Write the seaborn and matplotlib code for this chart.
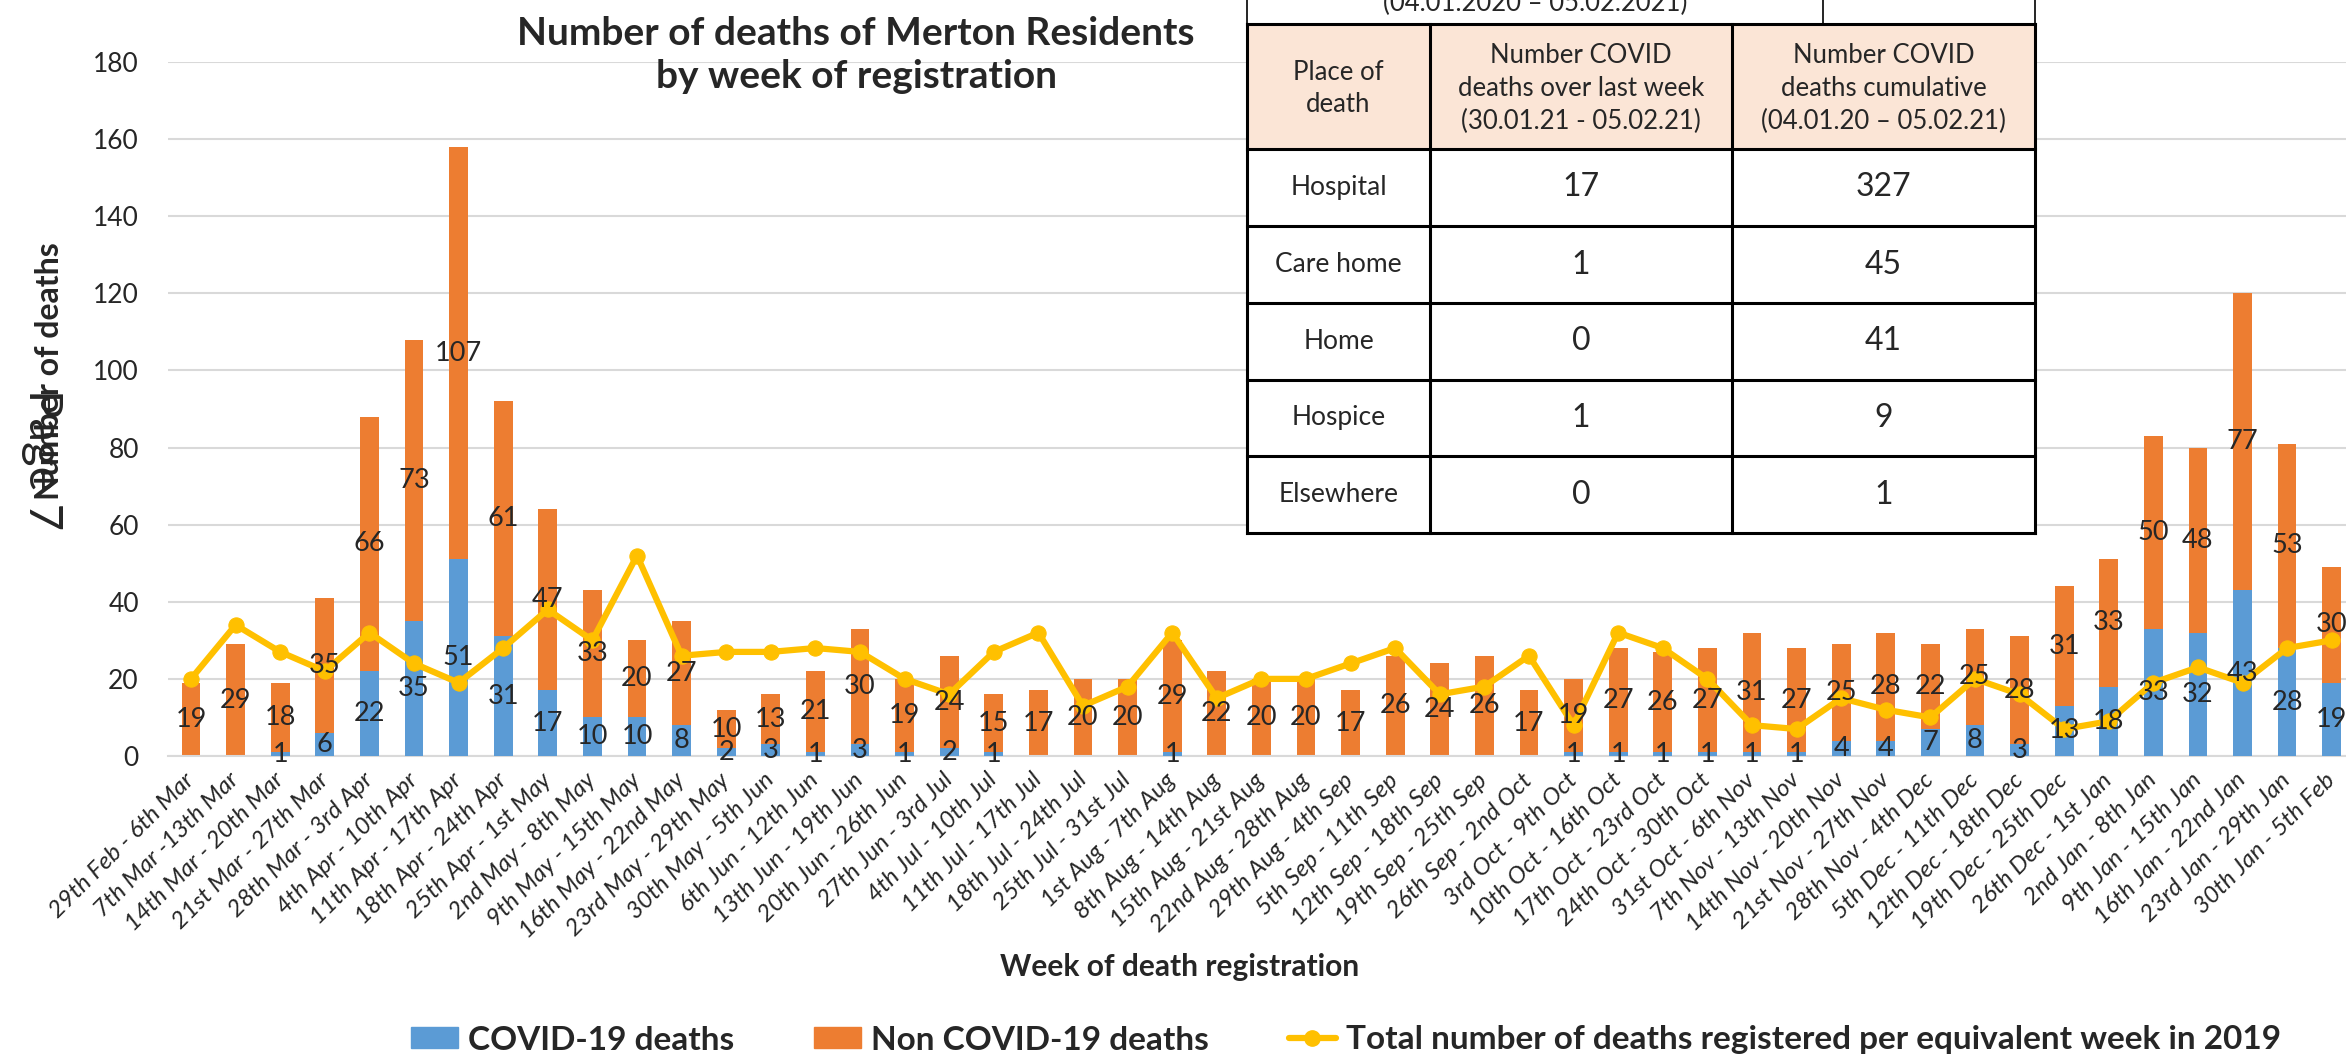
import numpy as np
import pandas as pd
import matplotlib
matplotlib.use('Agg')
import matplotlib.pyplot as plt
import seaborn as sns
from matplotlib.lines import Line2D
from matplotlib.patches import Patch, Rectangle

# weekly data
weeks = ['29th Feb - 6th Mar', '7th Mar -13th Mar', '14th Mar - 20th Mar', '21st Mar - 27th Mar',
         '28th Mar - 3rd Apr', '4th Apr - 10th Apr', '11th Apr - 17th Apr', '18th Apr - 24th Apr',
         '25th Apr - 1st May', '2nd May - 8th May', '9th May - 15th May', '16th May - 22nd May',
         '23rd May - 29th May', '30th May - 5th Jun', '6th Jun - 12th Jun', '13th Jun - 19th Jun',
         '20th Jun - 26th Jun', '27th Jun - 3rd Jul', '4th Jul - 10th Jul', '11th Jul - 17th Jul',
         '18th Jul - 24th Jul', '25th Jul - 31st Jul', '1st Aug - 7th Aug', '8th Aug - 14th Aug',
         '15th Aug - 21st Aug', '22nd Aug - 28th Aug', '29th Aug - 4th Sep', '5th Sep - 11th Sep',
         '12th Sep - 18th Sep', '19th Sep - 25th Sep', '26th Sep - 2nd Oct', '3rd Oct - 9th Oct',
         '10th Oct - 16th Oct', '17th Oct - 23rd Oct', '24th Oct - 30th Oct', '31st Oct - 6th Nov',
         '7th Nov - 13th Nov', '14th Nov - 20th Nov', '21st Nov - 27th Nov', '28th Nov - 4th Dec',
         '5th Dec - 11th Dec', '12th Dec - 18th Dec', '19th Dec - 25th Dec', '26th Dec - 1st Jan',
         '2nd Jan - 8th Jan', '9th Jan - 15th Jan', '16th Jan - 22nd Jan', '23rd Jan - 29th Jan',
         '30th Jan - 5th Feb']
covid_deaths = [0, 0, 1, 6, 22, 35, 51, 31, 17, 10, 10, 8, 2, 3, 1, 3, 1, 2, 1, 0,
                0, 0, 1, 0, 0, 0, 0, 0, 0, 0, 0, 1, 1, 1, 1, 1, 1, 4, 4, 7,
                8, 3, 13, 18, 33, 32, 43, 28, 19]
non_covid_deaths = [19, 29, 18, 35, 66, 73, 107, 61, 47, 33, 20, 27, 10, 13, 21, 30, 19, 24, 15, 17,
                    20, 20, 29, 22, 20, 20, 17, 26, 24, 26, 17, 19, 27, 26, 27, 31, 27, 25, 28, 22,
                    25, 28, 31, 33, 50, 48, 77, 53, 30]
deaths_2019 = [20, 34, 27, 22, 32, 24, 19, 28, 38, 30, 52, 26, 27, 27, 28, 27, 20, 16, 27, 32,
               13, 18, 32, 15, 20, 20, 24, 28, 16, 18, 26, 8, 32, 28, 20, 8, 7, 15, 12, 10,
               20, 16, 7, 9, 19, 23, 19, 28, 30]

# place of death table
table_header = ['Place of\ndeath',
                'Number COVID\ndeaths over last week\n(30.01.21 - 05.02.21)',
                'Number COVID\ndeaths cumulative\n(04.01.20 \u2013 05.02.21)']
table_places = ['Hospital', 'Care home', 'Home', 'Hospice', 'Elsewhere']
table_last_week = [17, 1, 0, 1, 0]
table_cumulative = [327, 45, 41, 9, 1]

BLUE = '#5B9BD5'
ORANGE = '#ED7D31'
YELLOW = '#FFC000'
GRID = '#D9D9D9'

W, H = 2346, 1058


def fx(px):
    return px / W


def fy(py):
    return 1 - py / H


sns.set_style('white')
plt.rcParams['font.family'] = ['Lato', 'DejaVu Sans']

df = pd.DataFrame({'week': weeks, 'covid': covid_deaths,
                   'non_covid': non_covid_deaths, 'y2019': deaths_2019})
df['total'] = df['covid'] + df['non_covid']
x_pos = np.arange(len(df))

fig = plt.figure(figsize=(W / 100, H / 100), dpi=100)
ax = fig.add_axes([fx(168), fy(756), fx(W) - fx(168), fy(62) - fy(756)])

# stacked bars: total in orange, covid part over it in blue
sns.barplot(data=df, x='week', y='total', color=ORANGE, saturation=1, width=0.42,
            linewidth=0, errorbar=None, ax=ax, zorder=2)
sns.barplot(data=df, x='week', y='covid', color=BLUE, saturation=1, width=0.42,
            linewidth=0, errorbar=None, ax=ax, zorder=3)
sns.lineplot(x=x_pos, y=df['y2019'], color=YELLOW, lw=4.5, marker='o', markersize=11,
             markeredgecolor=YELLOW, ax=ax, zorder=4)

for i, row in df.iterrows():
    if row['covid'] > 0:
        ax.text(i, row['covid'] / 2, str(row['covid']), ha='center', va='center',
                fontsize=19.5, zorder=6)
    ax.text(i, row['covid'] + row['non_covid'] / 2, str(row['non_covid']), ha='center',
            va='center', fontsize=19.5, zorder=6)

ax.set_ylim(0, 180)
ax.set_xlim(-0.516, 48.32)
ax.set_yticks(range(0, 181, 20))
ax.set_xticks(x_pos)
ax.set_xticklabels(weeks, rotation=45, ha='right', va='center', rotation_mode='anchor',
                   fontsize=17.5, style='italic')
ax.tick_params(axis='x', length=0, pad=15)
ax.tick_params(axis='y', length=0, pad=21, labelsize=19)
ax.grid(axis='y', color=GRID, lw=1.5)
ax.set_axisbelow(True)
for s in ['top', 'right', 'left']:
    ax.spines[s].set_visible(False)
ax.spines['bottom'].set_color(GRID)
ax.spines['bottom'].set_linewidth(1.5)
ax.set_xlabel('')
ax.set_ylabel('')

# titles
fig.text(fx(856), fy(55), 'Number of deaths of Merton Residents\nby week of registration',
         ha='center', va='center', fontsize=28, fontweight='bold', linespacing=1.3)
fig.text(fx(1180), fy(967), 'Week of death registration', ha='center', va='center',
         fontsize=21.5, fontweight='bold')
fig.text(fx(50), fy(242), 'Number of deaths', rotation=90, ha='center', va='top',
         fontsize=23, fontweight='bold')
fig.text(fx(42), fy(460), 'Page 7', rotation=-90, ha='center', va='center', fontsize=34)

# legend
handles = [Patch(color=BLUE), Patch(color=ORANGE),
           Line2D([], [], color=YELLOW, lw=4.5, marker='o', markersize=11)]
labels = ['COVID-19 deaths', 'Non COVID-19 deaths',
          'Total number of deaths registered per equivalent week in 2019']
fig.legend(handles, labels, loc='center', bbox_to_anchor=(fx(1346), fy(1040)), ncol=3,
           frameon=False, prop=dict(weight='bold', size=24), handlelength=1.4,
           handleheight=0.6, handletextpad=0.3, columnspacing=2.4)

# table overlay, in pixel coordinates
tab = fig.add_axes([0, 0, 1, 1], zorder=5)
tab.set_xlim(0, W)
tab.set_ylim(H, 0)
tab.axis('off')
tab.patch.set_alpha(0)

col_x = [1247, 1430, 1732, 2035]
row_y = [24, 149, 226, 303, 380, 456, 533]

# cut-off row above the table
tab.add_patch(Rectangle((col_x[0], -10), col_x[3] - col_x[0], 34, facecolor='white',
                        edgecolor='black', lw=1.2))
tab.plot([1823, 1823], [-10, 24], color='black', lw=1.2)
tab.text((col_x[0] + 1823) / 2, 3, '(04.01.2020 \u2013 05.02.2021)', ha='center',
         va='center', fontsize=18.5)

tab.add_patch(Rectangle((col_x[0], row_y[0]), col_x[3] - col_x[0], row_y[1] - row_y[0],
                        facecolor='#FBE5D6', edgecolor='none'))
tab.add_patch(Rectangle((col_x[0], row_y[1]), col_x[3] - col_x[0], row_y[-1] - row_y[1],
                        facecolor='white', edgecolor='none'))
for y in row_y:
    tab.plot([col_x[0], col_x[3]], [y, y], color='black', lw=2.2, solid_capstyle='projecting')
for x in col_x:
    tab.plot([x, x], [row_y[0], row_y[-1]], color='black', lw=2.2, solid_capstyle='projecting')

centers = [(col_x[j] + col_x[j + 1]) / 2 for j in range(3)]
for j, txt in enumerate(table_header):
    tab.text(centers[j], (row_y[0] + row_y[1]) / 2 + 2, txt, ha='center', va='center',
             fontsize=18.5, linespacing=1.4)
for r, place in enumerate(table_places):
    yc = (row_y[r + 1] + row_y[r + 2]) / 2
    tab.text(centers[0], yc, place, ha='center', va='center', fontsize=19)
    tab.text(centers[1], yc, str(table_last_week[r]), ha='center', va='center', fontsize=23)
    tab.text(centers[2], yc, str(table_cumulative[r]), ha='center', va='center', fontsize=23)

fig.savefig('out.png', dpi=100)
